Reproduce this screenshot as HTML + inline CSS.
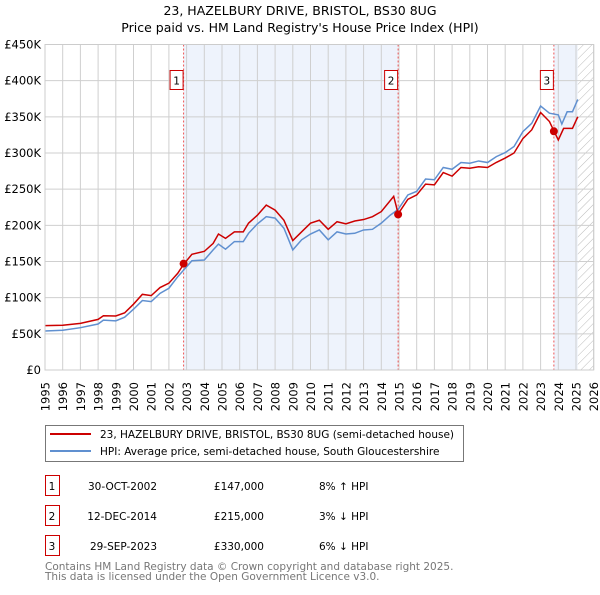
<!DOCTYPE html>
<html><head><meta charset="utf-8"><style>
body{margin:0;background:#fff;font-family:"Liberation Sans","DejaVu Sans",sans-serif;}
svg text{font-family:"DejaVu Sans","Liberation Sans",sans-serif;}
</style></head><body>
<svg id="chart" width="600" height="590" xmlns="http://www.w3.org/2000/svg">
<defs><pattern id="hatch" width="6" height="6" patternUnits="userSpaceOnUse" patternTransform="rotate(45)"><line x1="0" y1="0" x2="0" y2="6" stroke="#bbb" stroke-width="1"/></pattern></defs>
<text x="300" y="15" text-anchor="middle" font-size="12.5">23, HAZELBURY DRIVE, BRISTOL, BS30 8UG</text>
<text x="300" y="32" text-anchor="middle" font-size="12.5">Price paid vs. HM Land Registry's House Price Index (HPI)</text>
<g id="plot"></g>
<g>
<rect x="45.5" y="425.5" width="418" height="36" fill="#fff" stroke="#777"/>
<line x1="50" y1="434" x2="91" y2="434" stroke="#c00" stroke-width="2"/>
<text x="100" y="438" font-size="10.5">23, HAZELBURY DRIVE, BRISTOL, BS30 8UG (semi-detached house)</text>
<line x1="50" y1="451" x2="91" y2="451" stroke="#6090d0" stroke-width="2"/>
<text x="100" y="455" font-size="10.5">HPI: Average price, semi-detached house, South Gloucestershire</text>
</g>
<g font-size="10.5">
<rect x="45.5" y="475.5" width="14" height="20" fill="#fff" stroke="#c00"/><text x="52" y="490" text-anchor="middle">1</text>
<text x="157" y="490" text-anchor="end">30-OCT-2002</text><text x="264" y="490" text-anchor="end">£147,000</text><text x="319" y="490">8% ↑ HPI</text>
<rect x="45.5" y="505.5" width="14" height="20" fill="#fff" stroke="#c00"/><text x="52" y="520" text-anchor="middle">2</text>
<text x="157" y="520" text-anchor="end">12-DEC-2014</text><text x="264" y="520" text-anchor="end">£215,000</text><text x="319" y="520">3% ↓ HPI</text>
<rect x="45.5" y="535.5" width="14" height="20" fill="#fff" stroke="#c00"/><text x="52" y="550" text-anchor="middle">3</text>
<text x="157" y="550" text-anchor="end">29-SEP-2023</text><text x="264" y="550" text-anchor="end">£330,000</text><text x="319" y="550">6% ↓ HPI</text>
</g>
<text x="45" y="570" font-size="10.5" fill="#777">Contains HM Land Registry data © Crown copyright and database right 2025.</text>
<text x="45" y="580" font-size="10.5" fill="#777">This data is licensed under the Open Government Licence v3.0.</text>
</svg>
<script>
const yTicks=[0,50,100,150,200,250,300,350,400,450];
const yTickLabels=["£0","£50K","£100K","£150K","£200K","£250K","£300K","£350K","£400K","£450K"];
const years=[1995,1996,1997,1998,1999,2000,2001,2002,2003,2004,2005,2006,2007,2008,2009,2010,2011,2012,2013,2014,2015,2016,2017,2018,2019,2020,2021,2022,2023,2024,2025,2026];
const hpiDates=[1995,1996,1997,1998,1998.3,1999,1999.5,2000,2000.5,2001,2001.5,2002,2002.5,2002.83,2003.3,2004,2004.5,2004.8,2005.2,2005.7,2006.2,2006.5,2007,2007.5,2008,2008.5,2009,2009.5,2010,2010.5,2011,2011.5,2012,2012.5,2013,2013.5,2014,2014.5,2014.95,2015.5,2016,2016.5,2017,2017.5,2018,2018.5,2019,2019.5,2020,2020.5,2021,2021.5,2022,2022.5,2023,2023.5,2024,2024.2,2024.5,2024.8,2025.1];
const hpiValues=[54,55,58.5,63.6,69,68,73,84,96,94.5,106,113,129,138,151,152,166,174,167,177.5,177.5,189,202,212,210,196,166,180,188,193.6,180,191,188,189,193.6,194.5,203,214,222,242,247,264,263,280,277.5,286.8,285.8,289,286.8,295,300.6,309,329.6,341,365,355,352.7,340,357,357,374];
const priceDates=[1995,1996,1997,1998,1998.3,1999,1999.5,2000,2000.5,2001,2001.5,2002,2002.5,2002.83,2003.3,2004,2004.5,2004.8,2005.2,2005.7,2006.2,2006.5,2007,2007.5,2008,2008.5,2009,2009.5,2010,2010.5,2011,2011.5,2012,2012.5,2013,2013.5,2014,2014.7,2014.85,2014.95,2015.5,2016,2016.5,2017,2017.5,2018,2018.5,2019,2019.5,2020,2020.5,2021,2021.5,2022,2022.5,2023,2023.5,2023.75,2024,2024.3,2024.8,2025.1];
const priceValues=[61.3,61.8,64.5,70,75,74.7,79,91,104.6,102.8,114,120,133.7,146,160,164,175,188,182,191,191,203,214,228,221,207,179,191,203,207,194.5,205,202,206,208,212,219,240,226,215.8,236,242,257,256,273,268,280,279,281,280,287,293,300,320,332,356,343.5,330.6,318,334,334,350];
const saleDates=[2002.83,2014.95,2023.75];
const salePrices=[147,215,330];
const saleLabels=["1","2","3"];
const bandStarts=[2002.83,2023.75];
const bandEnds=[2014.95,2025.1];
const dataEnd=2025.1;

const X0=45,PXY=17.7,Y0=370,PXK=325.5/450;
const x=t=>X0+(t-1995)*PXY;
const y=v=>Y0-v*PXK;
const NS="http://www.w3.org/2000/svg";
const g=document.getElementById('plot');
function mk(tag,at,parent){const e=document.createElementNS(NS,tag);for(const k in at)e.setAttribute(k,at[k]);(parent||g).appendChild(e);return e;}
const xL=x(1995),xR=x(2026),yT=y(450),yB=y(0);
bandStarts.forEach((s,i)=>{
const r=mk('rect',{x:x(s),y:yT,width:x(bandEnds[i])-x(s),height:yB-yT,fill:'#eef3fc'});


});
const h=mk('rect',{x:x(dataEnd),y:yT,width:xR-x(dataEnd),height:yB-yT,fill:'url(#hatch)'});


years.forEach(yr=>{
const l=mk('line',{x1:x(yr),x2:x(yr),y1:yT,y2:yB,stroke:'#cfcfcf','stroke-width':1});


const tx=x(yr)+4.5,ty=yB+12;
const t=mk('text',{x:tx,y:ty,'text-anchor':'end','font-size':'11.5',transform:'rotate(-90 '+tx+' '+ty+')'});
t.textContent=yr;


});
yTicks.forEach((v,i)=>{
const l=mk('line',{x1:xL,x2:xR,y1:y(v),y2:y(v),stroke:'#cfcfcf','stroke-width':1});


const t=mk('text',{x:xL-4,y:y(v)+4,'text-anchor':'end','font-size':'11.5'});
t.textContent=yTickLabels[i];


});
saleDates.forEach((d,i)=>{
const l=mk('line',{x1:x(d),x2:x(d),y1:yT,y2:yB,stroke:'#e55','stroke-width':1,'stroke-dasharray':'2,2'});


const bx=mk('rect',{x:x(d)-13.5,y:y(403)-8,width:13,height:19,fill:'#fff',stroke:'#c00'});


const t=mk('text',{x:x(d)-7,y:y(403)+6,'text-anchor':'middle','font-size':'10.5'});
t.textContent=saleLabels[i];


});
const hp=mk('polyline',{points:hpiDates.map((d,i)=>x(d)+','+y(hpiValues[i])).join(' '),fill:'none',stroke:'#6090d0','stroke-width':1.5});


const pp=mk('polyline',{points:priceDates.map((d,i)=>x(d)+','+y(priceValues[i])).join(' '),fill:'none',stroke:'#c00','stroke-width':1.5});


saleDates.forEach((d,i)=>{
const c=mk('circle',{cx:x(d),cy:y(salePrices[i]),r:4,fill:'#c00'});


});
const b=mk('rect',{x:xL,y:yT,width:xR-xL,height:yB-yT,fill:'none',stroke:'#ccc'});


</script>
</body></html>
